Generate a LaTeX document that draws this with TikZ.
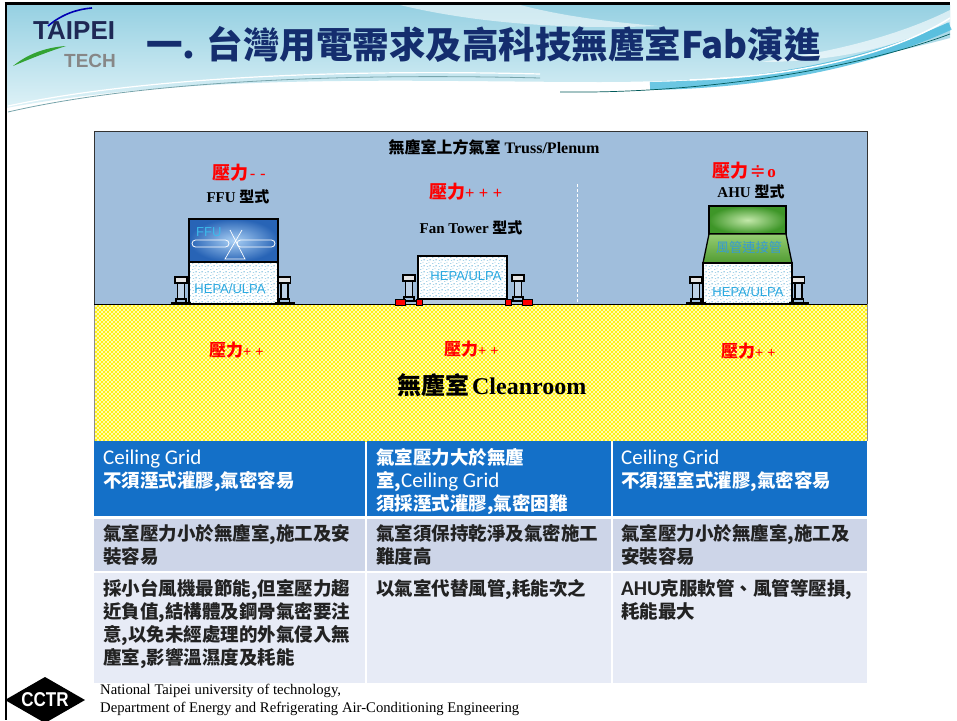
\documentclass[tikz,border=0pt]{standalone}
\usepackage{fontspec}
\setmainfont{Liberation Serif}
\newfontfamily\cjk{Noto Sans CJK TC}
\newfontfamily\calib{Carlito}
\newfontfamily\dejavu{DejaVu Sans}
\newfontfamily\arialf{Liberation Sans}
\usetikzlibrary{patterns}

\newcommand\fsz[2]{\fontsize{#1}{#2}\selectfont}
\newcommand\latn[1]{{\calib\mdseries\fsz{21}{23}#1}}

% dotted yellow fill of the clean room
\pgfdeclarepatternformonly{ydots}{\pgfqpoint{-1.5pt}{-1.5pt}}{\pgfqpoint{3.5pt}{3.5pt}}{\pgfqpoint{4pt}{4pt}}{%
  \pgfpathcircle{\pgfqpoint{0pt}{0pt}}{1.45pt}%
  \pgfpathcircle{\pgfqpoint{2pt}{2pt}}{1.45pt}%
  \pgfusepath{fill}}
% speckled filter media
\pgfdeclarepatternformonly{speck}{\pgfqpoint{0pt}{0pt}}{\pgfqpoint{6pt}{6pt}}{\pgfqpoint{6pt}{6pt}}{%
  \pgfpathrectangle{\pgfqpoint{0pt}{0pt}}{\pgfqpoint{1.5pt}{1pt}}%
  \pgfpathrectangle{\pgfqpoint{3pt}{1pt}}{\pgfqpoint{1pt}{1.5pt}}%
  \pgfpathrectangle{\pgfqpoint{1pt}{3.5pt}}{\pgfqpoint{1.5pt}{1pt}}%
  \pgfpathrectangle{\pgfqpoint{4pt}{4pt}}{\pgfqpoint{1.5pt}{1.5pt}}%
  \pgfusepath{fill}}

\definecolor{plenum}{RGB}{160,190,220}
\definecolor{titleblue}{RGB}{20,45,110}
\definecolor{hepatxt}{RGB}{40,168,224}
\definecolor{ducttxt}{RGB}{55,155,210}
\definecolor{tblue}{RGB}{20,112,200}
\definecolor{trowb}{RGB}{205,213,232}
\definecolor{trowc}{RGB}{231,235,246}
\definecolor{cleany}{RGB}{255,240,0}
\definecolor{cleanbg}{RGB}{255,255,215}
\definecolor{specks}{RGB}{165,210,232}
\definecolor{hdrtop}{RGB}{150,208,226}
\definecolor{hdrbot}{RGB}{222,242,247}
\definecolor{ribbon}{RGB}{70,185,220}
\definecolor{swoosh}{RGB}{120,165,172}
\definecolor{cellink}{RGB}{34,34,34}
\definecolor{pressred}{RGB}{255,0,0}

\tikzset{
  hepa/.style={preaction={fill=white}, pattern=speck, pattern color=specks, draw=black, line width=1.3pt},
  hepalabel/.style={font=\arialf\fsz{13}{13}, text=hepatxt, inner sep=0pt},
  plabel/.style={font=\bfseries\fsz{15}{15}, inner sep=0pt},
  redlabel/.style={text=pressred, inner sep=0pt},
  cell/.style={anchor=north west, inner sep=0pt, align=left, font=\cjk\bfseries\fsz{18.5}{23}},
  stand/.pic={
    \draw[line width=1.6pt, fill=plenum!70!white] (-3.5,-21) rectangle (3.5,-5);
    \draw[line width=1.1pt, fill=black!10] (-6,-27) rectangle (6,-21);
    \draw[line width=1.6pt] (-5,-5) rectangle (5,-1);
    \draw[line width=1.8pt] (-10,-0.9) -- (10,-0.9);
  }
}

\begin{document}
\begin{tikzpicture}[x=1pt,y=-1pt]
\useasboundingbox (0,0) rectangle (957,720);
\fill[white] (0,0) rectangle (957,720);

% ---------- header band ----------
\shade[top color=hdrtop, bottom color=hdrbot]
  (6,5) -- (950,5) -- (950,38) .. controls (860,62) and (760,82) .. (600,82)
  .. controls (420,82) and (200,72) .. (6,108) -- cycle;
\fill[white, opacity=0.55] (400,5) .. controls (470,22) and (560,30) .. (660,26)
  .. controls (580,20) and (540,10) .. (520,5) -- cycle;
\fill[white, opacity=0.6] (760,62) .. controls (850,50) and (910,30) .. (950,10)
  -- (950,22) .. controls (900,45) and (840,62) .. (760,62);
\draw[ribbon, line width=8pt, opacity=0.8] (650,86) .. controls (780,84) and (880,58) .. (950,26);
\draw[white, line width=1.5pt] (690,80) .. controls (810,76) and (900,50) .. (950,18);
\draw[teal!70!black, line width=0.7pt] (560,92) .. controls (720,94) and (870,64) .. (950,34);
\draw[swoosh, line width=0.8pt] (8,112) .. controls (120,86) and (300,72) .. (540,78);
\draw[white, line width=1.2pt] (8,106) .. controls (120,82) and (300,68) .. (540,74);

% logo
\draw[blue!70!black, line width=1.6pt] (48,26) .. controls (62,14) and (78,9) .. (92,8);
\fill[green!55!black!80] (13,66) .. controls (30,52) and (50,47) .. (66,46)
  .. controls (50,51) and (32,58) .. (13,66);
\node[anchor=west, inner sep=0pt, font=\arialf\bfseries\fsz{26}{26}, text={rgb,255:red,30;green,40;blue,85}] (logoA) at (33,30.5) {TAIPEI};
\node[anchor=west, inner sep=0pt, font=\arialf\bfseries\fsz{19}{19}, text={rgb,255:red,135;green,135;blue,135}] (logoB) at (64,60.5) {TECH};

% title
\node[anchor=west, inner sep=0pt, font=\cjk\bfseries\fsz{36.5}{36.5}, text=titleblue] (title) at (146,45) {一. 台灣用電需求及高科技無塵室Fab演進};

% slide frame
\draw[black, line width=3pt] (4.5,3.5) -- (950,3.5);
\draw[black, line width=2.5pt] (6,3) -- (6,720);

% ---------- plenum and clean room ----------
\fill[plenum] (94,131) rectangle (867,304);
\draw[black!80, line width=0.8pt] (94,304) -- (94,131) -- (867,131) -- (867,304);
\path[preaction={fill=cleanbg}, pattern=ydots, pattern color=cleany] (94,304) rectangle (867,441);
\draw[black!45, line width=0.6pt] (94,304) -- (94,441) (867,304) -- (867,441);
\draw[black, line width=1pt] (94,304) -- (867,304);

\node[plabel, font=\bfseries\fsz{16}{16}] (plenumlbl) at (494,147) {{\cjk\bfseries 無塵室上方氣室} Truss/Plenum};

% FFU type
\node[redlabel, anchor=west] (pffu) at (212,173) {{\cjk\bfseries\fsz{18}{18}壓力}\,{\arialf\fsz{17}{17}- -}};
\node[plabel] (ffulbl) at (238,197) {FFU {\cjk\bfseries 型式}};
\shade[inner color={rgb,255:red,170;green,208;blue,245}, outer color={rgb,255:red,40;green,100;blue,182}] (189,219) rectangle (278,262);
\draw[black, line width=1.3pt] (189,219) rectangle (278,262);
\draw[white, line width=0.8pt, rounded corners=3.5pt] (192,240) rectangle (229,247) (237,240) rectangle (275,247);
\draw[white, line width=0.7pt] (230,230) -- (245,259) -- (225,259) -- (242,230);
\node[hepalabel, anchor=west, text={rgb,255:red,60;green,185;blue,235}] (ffutxt) at (196,232) {FFU};
\path[hepa] (189,262) rectangle (278,304);
\node[hepalabel] (hepa1) at (230,289) {HEPA/ULPA};
\pic at (181,304) {stand};
\pic at (284.5,304) {stand};

% Fan Tower type
\node[redlabel, anchor=west] (pfan) at (429,192) {{\cjk\bfseries\fsz{18}{18}壓力}{\arialf\fsz{16}{16}+ + +}};
\node[plabel] (fanlbl) at (471,228) {Fan Tower {\cjk\bfseries 型式}};
\path[hepa] (418,256) rectangle (507,299);
\draw[black, line width=0.8pt, fill={rgb,255:red,180;green,200;blue,222}] (418,299) rectangle (507,304);
\node[hepalabel] (hepa2) at (466,276) {HEPA/ULPA};
\pic at (409,302) {stand};
\pic at (518,302) {stand};
\foreach \xa/\xb in {395/405, 416/422, 505/511, 522/532}
  \draw[black, line width=0.6pt, fill=red] (\xa,299) rectangle (\xb,305);
\draw[white, line width=0.8pt, dash pattern=on 3pt off 2pt] (577,184) -- (577,303);

% AHU type
\node[redlabel, anchor=west] (pahu) at (712,171) {{\cjk\bfseries\fsz{18}{18}壓力}\,{\dejavu\fsz{19}{19}≑}\,{\bfseries\fsz{17}{17}o}};
\node[plabel] (ahulbl) at (751,192) {AHU {\cjk\bfseries 型式}};
\shade[inner color={rgb,255:red,195;green,232;blue,170}, outer color={rgb,255:red,62;green,150;blue,40}] (709,206) rectangle (786,234);
\draw[black, line width=1.3pt] (709,206) rectangle (786,234);
\shade[top color={rgb,255:red,150;green,205;blue,115}, bottom color={rgb,255:red,80;green,155;blue,50}] (709,234) -- (786,234) -- (792,263) -- (703,263) -- cycle;
\draw[black, line width=1.3pt] (709,234) -- (786,234) -- (792,263) -- (703,263) -- cycle;
\node[inner sep=0pt, font=\cjk\fsz{13.2}{13.2}, text=ducttxt] (duct) at (749,247) {風管連接管};
\path[hepa] (703,263) rectangle (792,304);
\node[hepalabel] (hepa3) at (748,292) {HEPA/ULPA};
\pic at (696,304) {stand};
\pic at (798.5,304) {stand};

% clean room labels
\node[redlabel, anchor=west] (pc1) at (209,350) {{\cjk\bfseries\fsz{17}{17}壓力}{\arialf\fsz{14}{14}+ +}};
\node[redlabel, anchor=west] (pc2) at (444,349) {{\cjk\bfseries\fsz{17}{17}壓力}{\arialf\fsz{14}{14}+ +}};
\node[redlabel, anchor=west] (pc3) at (721,351) {{\cjk\bfseries\fsz{17}{17}壓力}{\arialf\fsz{14}{14}+ +}};
\node[inner sep=0pt] (cleanlbl) at (492,385) {{\cjk\bfseries\fsz{24}{24}無塵室} {\bfseries\fsz{24}{24}Cleanroom}};

% ---------- comparison table ----------
\fill[tblue] (94,441) rectangle (365,516);
\fill[tblue] (367,441) rectangle (611,516);
\fill[tblue] (613,441) rectangle (867,516);
\fill[trowb] (94,519) rectangle (365,571);
\fill[trowb] (367,519) rectangle (611,571);
\fill[trowb] (613,519) rectangle (867,571);
\fill[trowc] (94,573) rectangle (365,683);
\fill[trowc] (367,573) rectangle (611,683);
\fill[trowc] (613,573) rectangle (867,683);

\node[cell, text=white] (c11) at (103,447) {\rule{0pt}{17pt}\latn{Ceiling Grid}\\不須溼式灌膠,氣密容易};
\node[cell, text=white] (c12) at (376,447) {\rule{0pt}{17pt}氣室壓力大於無塵\\室,\latn{Ceiling Grid}\\須採溼式灌膠,氣密困難};
\node[cell, text=white] (c13) at (621,447) {\rule{0pt}{17pt}\latn{Ceiling Grid}\\不須溼室式灌膠,氣密容易};

\node[cell, text=cellink] (c21) at (103,523) {\rule{0pt}{17pt}氣室壓力小於無塵室,施工及安\\裝容易};
\node[cell, text=cellink] (c22) at (376,523) {\rule{0pt}{17pt}氣室須保持乾淨及氣密施工\\難度高};
\node[cell, text=cellink] (c23) at (621,523) {\rule{0pt}{17pt}氣室壓力小於無塵室,施工及\\安裝容易};

\node[cell, text=cellink] (c31) at (103,578) {\rule{0pt}{17pt}採小台風機最節能,但室壓力趨\\近負值,結構體及鋼骨氣密要注\\意,以免未經處理的外氣侵入無\\塵室,影響溫濕度及耗能};
\node[cell, text=cellink] (c32) at (376,578) {\rule{0pt}{17pt}以氣室代替風管,耗能次之};
\node[cell, text=cellink] (c33) at (621,578) {\rule{0pt}{17pt}{\calib\bfseries\fsz{21}{23}AHU}克服軟管、風管等壓損,\\耗能最大};

% ---------- footer ----------
\fill[black] (45,677) -- (85,700) -- (45,723) -- (5,700) -- cycle;
\node[inner sep=0pt, text=white, font=\arialf\bfseries\fsz{20}{20}] (cctr) at (45,700) {\scalebox{0.85}[1]{CCTR}};
\node[anchor=base west, inner sep=0pt, font=\fsz{14.7}{14.7}] (foot1) at (100,694) {National Taipei university of technology,};
\node[anchor=base west, inner sep=0pt, font=\fsz{14.7}{14.7}] (foot2) at (100,712) {Department of Energy and Refrigerating Air-Conditioning Engineering};
\end{tikzpicture}
\end{document}
